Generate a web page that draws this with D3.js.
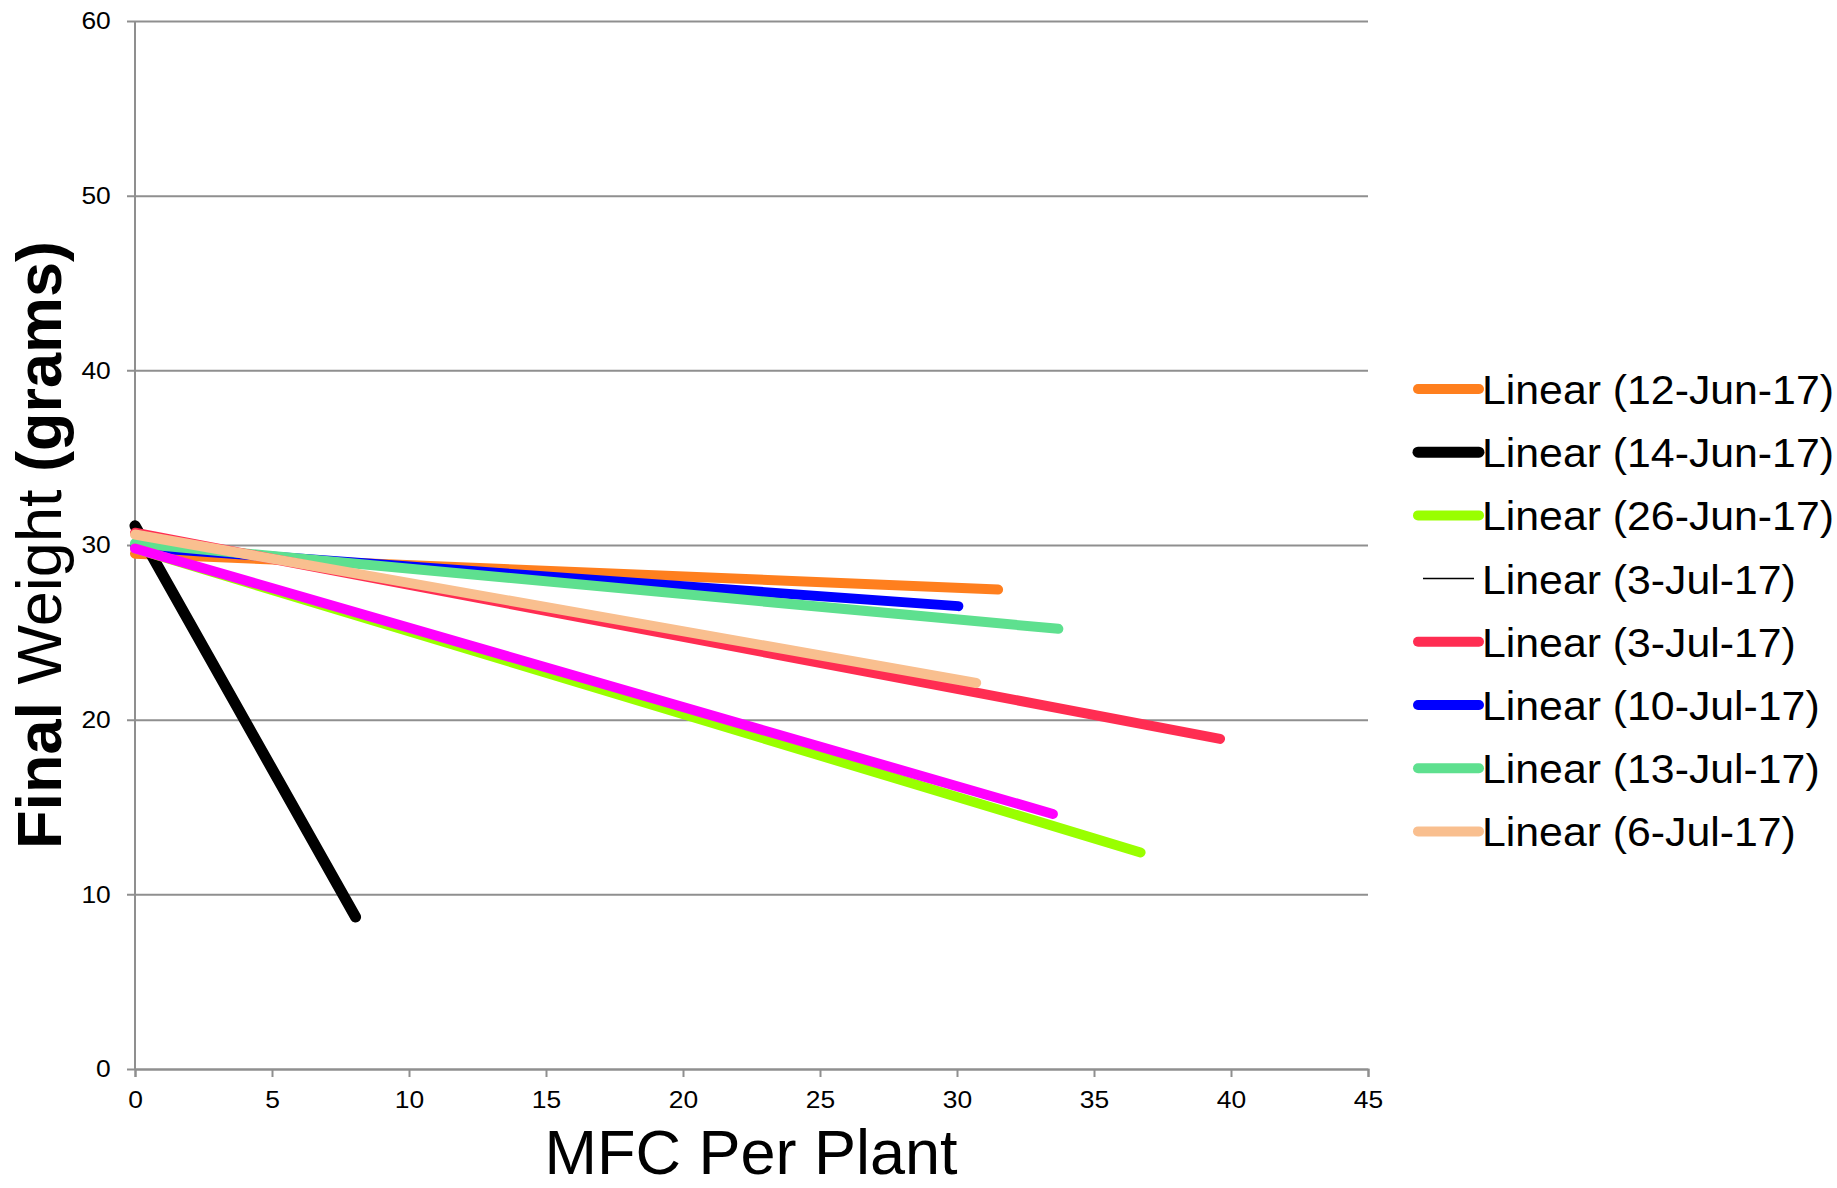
<!DOCTYPE html>
<html>
<head>
<meta charset="utf-8">
<script src="https://cdn.jsdelivr.net/npm/d3@7"></script>
<style>
body { margin: 0; background: #fff; }
text { font-family: "Liberation Sans", Arial, sans-serif; }
</style>
</head>
<body>
<div class="chart"></div>
<script>
// trendline series: [start x, end x], [start y, end y]
let names = ['Linear (12-Jun-17)', 'Linear (14-Jun-17)', 'Linear (26-Jun-17)', 'Linear (3-Jul-17)',
	'Linear (3-Jul-17)', 'Linear (10-Jul-17)', 'Linear (13-Jul-17)', 'Linear (6-Jul-17)', ''];
let colors = ['#FF7F1E', '#000000', '#99FF00', '#000000', '#FF2D52', '#0000FF', '#5EE08F', '#F9BF8F', '#FF00FF'];
let widths = [10, 11, 10, 1.5, 10, 10, 10, 10, 10];
let xStart = [0, 0, 0, null, 0, 0, 0, 0, 0];
let xEnd = [31.5, 8.05, 36.7, null, 39.6, 30.05, 33.7, 30.7, 33.5];
let yStart = [29.5, 31.1, 29.8, null, 30.7, 29.9, 30.1, 30.6, 29.8];
let yEnd = [27.45, 8.7, 12.4, null, 18.9, 26.5, 25.2, 22.1, 14.6];
// draw order (back to front)
let drawOrder = [0, 1, 5, 6, 4, 7, 2, 8];
let xTicks = [0, 5, 10, 15, 20, 25, 30, 35, 40, 45];
let yTicks = [0, 10, 20, 30, 40, 50, 60];

let W = 1837, H = 1188;
let margin = {top: 21, left: 135};
let width = 1368 - margin.left;
let height = 1069 - margin.top;

let svg = d3.select('.chart')
	.append('svg')
	.attr('width', W)
	.attr('height', H);

let g = svg.append('g')
	.attr('transform', 'translate(' + margin.left + ', ' + margin.top + ')');

let xScale = d3.scaleLinear().domain([0, 45]).range([0, width]);
let yScale = d3.scaleLinear().domain([0, 60]).range([height, 0]);

// gridlines + y axis
let yAxis = d3.axisLeft(yScale)
	.tickValues(yTicks)
	.tickSizeInner(-width)
	.tickSizeOuter(0)
	.tickPadding(10);

let yg = g.append('g').call(yAxis);
yg.select('.domain').remove();
yg.selectAll('.tick line')
	.attr('x1', -8)
	.attr('stroke', '#8f8f8f')
	.attr('stroke-width', 2);
yg.selectAll('.tick text')
	.attr('x', -22)
	.attr('transform', 'scale(1.1, 1)')
	.style('font-size', '24px')
	.attr('fill', '#000');

g.append('line')
	.attr('x1', 0).attr('x2', 0)
	.attr('y1', 0).attr('y2', height)
	.attr('stroke', '#8f8f8f')
	.attr('stroke-width', 2);

let xAxis = d3.axisBottom(xScale)
	.tickValues(xTicks)
	.tickSizeInner(8)
	.tickSizeOuter(8)
	.tickPadding(14);

let xg = g.append('g')
	.attr('transform', 'translate(0, ' + height + ')')
	.call(xAxis);
xg.select('.domain').attr('stroke', '#8f8f8f').attr('stroke-width', 2);
xg.selectAll('.tick line').attr('stroke', '#8f8f8f').attr('stroke-width', 2);
xg.selectAll('.tick text')
	.attr('transform', 'scale(1.1, 1)')
	.style('font-size', '24px')
	.attr('fill', '#000');

// trendlines
let line = d3.line()
	.x(d => xScale(d[0]))
	.y(d => yScale(d[1]));

drawOrder.forEach(i => {
	g.append('path')
		.attr('d', line([[xStart[i], yStart[i]], [xEnd[i], yEnd[i]]]))
		.attr('fill', 'none')
		.attr('stroke', colors[i])
		.attr('stroke-width', widths[i])
		.attr('stroke-linecap', 'round');
});

// axis titles
svg.append('text')
	.attr('x', 751)
	.attr('y', 1174)
	.attr('text-anchor', 'middle')
	.style('font-size', '63px')
	.text('MFC Per Plant');

let yt = svg.append('text')
	.attr('transform', 'translate(61, 545) rotate(-90)')
	.attr('text-anchor', 'middle')
	.style('font-size', '63px');
yt.append('tspan').style('font-weight', 'bold').text('Final');
yt.append('tspan').text(' Weight ');
yt.append('tspan').style('font-weight', 'bold').text('(grams)');

// legend
let legend = svg.append('g')
	.attr('transform', 'translate(1418, 389)');

names.slice(0, 8).forEach((n, i) => {
	let row = legend.append('g').attr('transform', 'translate(0, ' + (i * 63.2) + ')');
	let thin = widths[i] < 5;
	row.append('line')
		.attr('x1', thin ? 5 : 0).attr('x2', thin ? 56 : 61)
		.attr('stroke', colors[i])
		.attr('stroke-width', thin ? 1.5 : widths[i])
		.attr('stroke-linecap', thin ? 'butt' : 'round');
	row.append('text')
		.attr('transform', 'translate(64, 15) scale(1.07, 1)')
		.style('font-size', '40px')
		.text(n);
});
</script>
</body>
</html>
